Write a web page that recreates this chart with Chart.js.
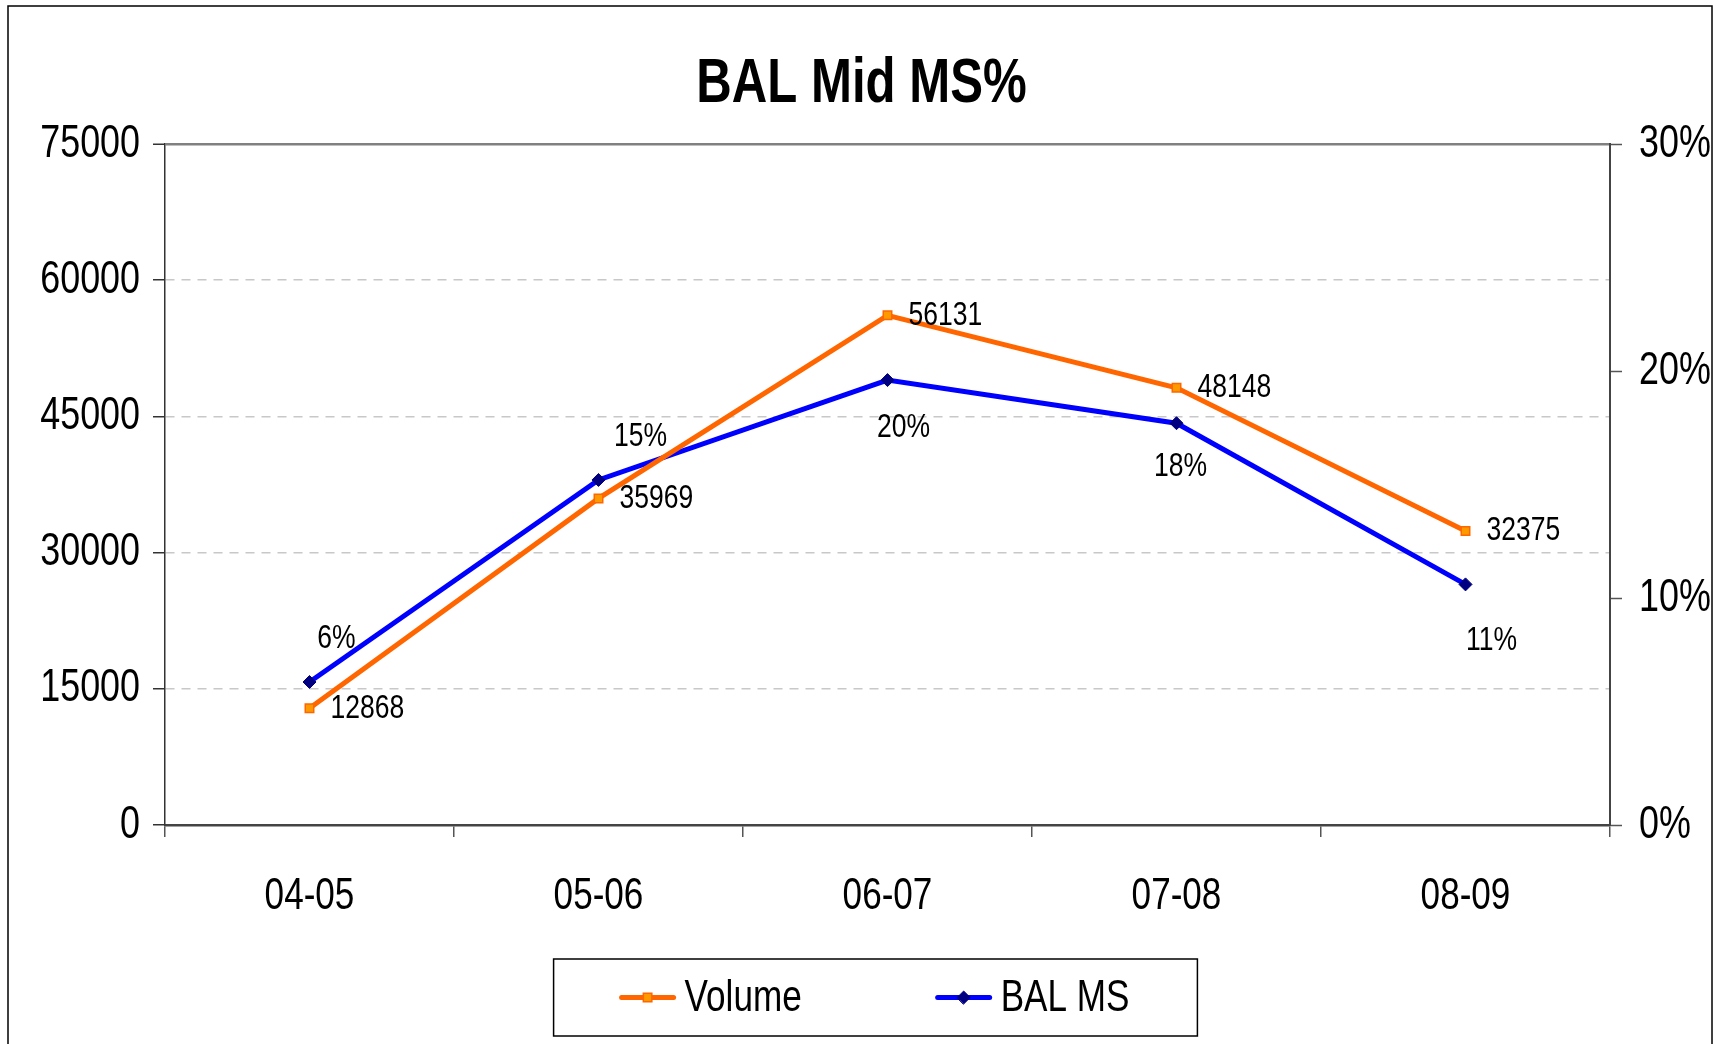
<!DOCTYPE html>
<html>
<head>
<meta charset="utf-8">
<title>BAL Mid MS%</title>
<script src="https://cdn.jsdelivr.net/npm/chart.js@4.4.1/dist/chart.umd.min.js"></script>
<style>
  html, body { margin: 0; padding: 0; background: #fff; }
  #wrap { width: 1723px; height: 1044px; }
</style>
</head>
<body>
<div id="wrap"><canvas id="msChart" width="1723" height="1044"></canvas></div>
<script>
// chart data
const years = ["04-05", "05-06", "06-07", "07-08", "08-09"];
const volume = [12868, 35969, 56131, 48148, 32375];
const balMs = [0.063, 0.152, 0.196, 0.177, 0.106];
const volumeTicks = [0, 15000, 30000, 45000, 60000, 75000];
const shareTicks = [0, 0.1, 0.2, 0.3];

const FONT = "'Liberation Sans', Arial, sans-serif";
Chart.defaults.font.family = FONT;
Chart.defaults.color = "#000";

const pct = v => Math.round(v * 100) + "%";
const volMax = volumeTicks[volumeTicks.length - 1];

const ctx = document.getElementById("msChart").getContext("2d");

// no narrow face installed, so squeeze text horizontally (Arial Narrow look)
const SQUEEZE = 0.78;
const rawFillText = ctx.fillText.bind(ctx);
const rawMeasure = ctx.measureText.bind(ctx);
ctx.fillText = function (text, x, y) {
  this.save();
  this.translate(x, y);
  this.scale(SQUEEZE, 1);
  rawFillText(text, 0, 0);
  this.restore();
};
ctx.measureText = function (text) {
  const m = rawMeasure(text);
  return {
    width: m.width * SQUEEZE,
    actualBoundingBoxAscent: m.actualBoundingBoxAscent,
    actualBoundingBoxDescent: m.actualBoundingBoxDescent,
    actualBoundingBoxLeft: m.actualBoundingBoxLeft * SQUEEZE,
    actualBoundingBoxRight: m.actualBoundingBoxRight * SQUEEZE
  };
};

// white page + outer frame
const framePlugin = {
  id: "frame",
  beforeDraw(chart) {
    const c = chart.ctx;
    c.save();
    c.fillStyle = "#fff";
    c.fillRect(0, 0, chart.width, chart.height);
    c.strokeStyle = "#000";
    c.lineWidth = 1.5;
    c.strokeRect(8, 6, chart.width - 19, chart.height + 40);
    c.restore();
  }
};

// value labels next to the points
const pointLabelPlugin = {
  id: "pointLabels",
  afterDatasetsDraw(chart, args, opts) {
    const c = chart.ctx;
    c.save();
    c.font = "34px " + FONT;
    c.fillStyle = "#000";
    c.textBaseline = "middle";

    chart.getDatasetMeta(0).data.forEach((pt, i) => {
      c.textAlign = "left";
      c.fillText(String(volume[i]), pt.x + 21, pt.y);
    });

    chart.getDatasetMeta(1).data.forEach((pt, i) => {
      c.textAlign = "center";
      c.fillText(pct(balMs[i]), pt.x + opts.msDx[i], pt.y + opts.msDy[i]);
    });
    c.restore();
  }
};

// boxed legend under the axis
const legendBoxPlugin = {
  id: "legendBox",
  afterDraw(chart) {
    const c = chart.ctx;
    const sets = chart.data.datasets;
    const lineW = 52, textGap = 11, itemGap = 136, padX = 68, boxH = 77;
    c.save();
    c.font = "45px " + FONT;
    const widths = sets.map(ds => lineW + textGap + c.measureText(ds.label).width);
    const total = widths.reduce((a, b) => a + b, 0) + itemGap * (sets.length - 1);
    const boxW = total + padX * 2;
    const left = chart.width / 2 + 14 - boxW / 2;
    const top = chart.chartArea.bottom + 134;
    const midY = top + boxH / 2;

    c.strokeStyle = "#000";
    c.lineWidth = 1.5;
    c.strokeRect(left, top, boxW, boxH);

    let x = left + padX;
    sets.forEach((ds, i) => {
      c.strokeStyle = ds.borderColor;
      c.lineWidth = 5;
      c.lineCap = "round";
      c.beginPath();
      c.moveTo(x, midY);
      c.lineTo(x + lineW, midY);
      c.stroke();
      c.fillStyle = ds.pointBackgroundColor;
      c.strokeStyle = ds.pointBorderColor;
      c.lineWidth = ds.pointBorderWidth;
      Chart.helpers.drawPoint(c, {
        pointStyle: ds.pointStyle,
        radius: ds.pointRadius,
        rotation: 0,
        borderWidth: ds.pointBorderWidth
      }, x + lineW / 2, midY);
      c.fillStyle = "#000";
      c.textAlign = "left";
      c.textBaseline = "middle";
      c.fillText(ds.label, x + lineW + textGap, midY + 1);
      x += widths[i] + itemGap;
    });
    c.restore();
  }
};

const chart = new Chart(ctx, {
  type: "line",
  data: {
    labels: years,
    datasets: [
      {
        label: "Volume",
        data: volume,
        yAxisID: "y",
        borderColor: "#FF6600",
        backgroundColor: "#FF9900",
        borderWidth: 5,
        tension: 0,
        pointStyle: "rect",
        pointRadius: 6,
        pointBackgroundColor: "#FF9900",
        pointBorderColor: "#FF6600",
        pointBorderWidth: 1.5
      },
      {
        label: "BAL MS",
        data: balMs,
        yAxisID: "y1",
        borderColor: "#0000FF",
        backgroundColor: "#000080",
        borderWidth: 5,
        tension: 0,
        pointStyle: "rectRot",
        pointRadius: 6.5,
        pointBackgroundColor: "#000080",
        pointBorderColor: "#000080",
        pointBorderWidth: 1
      }
    ]
  },
  options: {
    responsive: false,
    devicePixelRatio: 1,
    animation: false,
    layout: { padding: { left: 0, right: 0, top: 0, bottom: 119 } },
    plugins: {
      legend: { display: false },
      tooltip: { enabled: false },
      title: {
        display: true,
        text: "BAL Mid MS%",
        color: "#000",
        font: { size: 63, weight: "bold", lineHeight: 1 },
        padding: { top: 53, bottom: 28 }
      },
      pointLabels: {
        msDx: [27, 42, 16, 4, 26],
        msDy: [-43, -43, 48, 43, 56]
      }
    },
    scales: {
      x: {
        offset: true,
        grid: { offset: true, drawOnChartArea: false, tickLength: 12, tickColor: "#555", lineWidth: 1.5 },
        border: { color: "#444", width: 2.5 },
        ticks: { font: { size: 45 }, color: "#000", padding: 33 },
        afterFit: s => { s.height = 100; }
      },
      y: {
        position: "left",
        min: volumeTicks[0],
        max: volMax,
        ticks: {
          stepSize: volumeTicks[1] - volumeTicks[0],
          font: { size: 46 },
          color: "#000",
          padding: 13,
          callback: v => String(v)
        },
        grid: {
          color: c => c.tick.value === 0 ? "rgba(0,0,0,0)" : (c.tick.value === volMax ? "#808080" : "#C8C8C8"),
          lineWidth: c => c.tick.value === volMax ? 2.5 : 1.5,
          tickColor: "#333",
          tickWidth: 1.5,
          tickLength: 12
        },
        border: {
          color: "#333",
          width: 1.5,
          dash: c => (c.tick && c.tick.value === volMax) ? [] : [9, 7]
        },
        afterFit: s => { s.width = 165; }
      },
      y1: {
        position: "right",
        min: shareTicks[0],
        max: shareTicks[shareTicks.length - 1],
        ticks: {
          stepSize: shareTicks[1] - shareTicks[0],
          font: { size: 46 },
          color: "#000",
          padding: 17,
          callback: v => pct(v)
        },
        grid: { drawOnChartArea: false, tickColor: "#555", tickWidth: 1.5, tickLength: 12 },
        border: { color: "#444", width: 2 },
        afterFit: s => { s.width = 113; }
      }
    }
  },
  plugins: [framePlugin, pointLabelPlugin, legendBoxPlugin]
});
</script>
</body>
</html>
